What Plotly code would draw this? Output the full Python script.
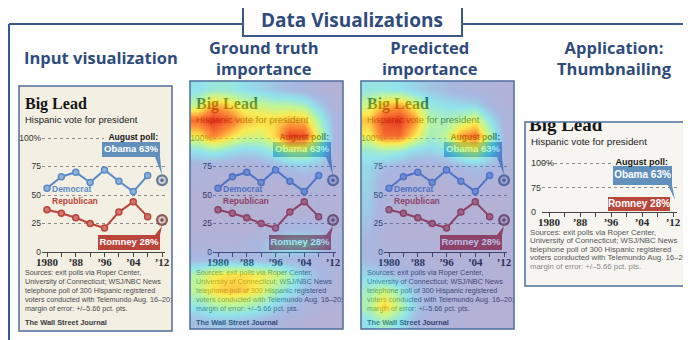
import plotly.graph_objects as go

# ---- values (WSJ "Big Lead" chart) ----
years = [1980, 1984, 1988, 1992, 1996, 2000, 2004, 2008]
democrat = [56, 66, 70, 61, 72, 62, 53, 67]
republican = [37, 34, 30, 25, 21, 35, 44, 31]
poll_year = 2012
obama_poll = 63
romney_poll = 28

year_ticks = [1980, 1984, 1988, 1992, 1996, 2000, 2004, 2008, 2012]
year_labels = ['1980', '', '\u201988', '', '\u201996', '', '\u201904', '', '\u201912']
pct_ticks = [0, 25, 50, 75, 100]
pct_labels = ['0', '25', '50', '75', '100%']
# the thumbnail is seam-carved: only 0, 75 and 100 survive
thumb_ticks = [0, 1, 2]
thumb_labels = ['0', '75', '100%']

sources = [
    'Sources: exit polls via Roper Center,',
    'University of Connecticut; WSJ/NBC News',
    'telephone poll of 300 Hispanic registered',
    'voters conducted with Telemundo Aug. 16\u201320;',
    'margin of error: +/\u20135.66 pct. pts.',
]

panel_titles = ['Input visualization', 'Ground truth<br>importance',
                'Predicted<br>importance', 'Application:<br>Thumbnailing']

# importance maps, 16 rows (top -> bottom) x 10 columns (left -> right)
gt_importance = [
    [0.35, 0.40, 0.40, 0.35, 0.30, 0.25, 0.20, 0.15, 0.10, 0.05],
    [0.52, 0.78, 0.70, 0.58, 0.55, 0.50, 0.50, 0.45, 0.26, 0.10],
    [0.90, 1.00, 0.92, 0.76, 0.70, 0.70, 0.76, 0.74, 0.44, 0.15],
    [0.66, 0.85, 0.72, 0.60, 0.58, 0.70, 0.98, 0.95, 0.55, 0.15],
    [0.35, 0.42, 0.36, 0.30, 0.32, 0.42, 0.55, 0.55, 0.40, 0.12],
    [0.15, 0.12, 0.10, 0.10, 0.12, 0.18, 0.25, 0.28, 0.22, 0.10],
    [0.10, 0.08, 0.06, 0.06, 0.06, 0.08, 0.10, 0.12, 0.12, 0.08],
    [0.08, 0.06, 0.05, 0.05, 0.05, 0.05, 0.06, 0.08, 0.10, 0.08],
    [0.08, 0.06, 0.05, 0.05, 0.05, 0.05, 0.06, 0.08, 0.10, 0.08],
    [0.08, 0.06, 0.06, 0.06, 0.08, 0.12, 0.18, 0.20, 0.18, 0.10],
    [0.10, 0.10, 0.10, 0.12, 0.18, 0.32, 0.38, 0.38, 0.32, 0.15],
    [0.20, 0.22, 0.22, 0.20, 0.20, 0.20, 0.18, 0.16, 0.12, 0.10],
    [0.50, 0.64, 0.68, 0.68, 0.64, 0.58, 0.46, 0.30, 0.20, 0.12],
    [0.52, 0.68, 0.74, 0.72, 0.64, 0.48, 0.36, 0.25, 0.15, 0.10],
    [0.38, 0.46, 0.50, 0.48, 0.42, 0.32, 0.22, 0.15, 0.10, 0.08],
    [0.22, 0.25, 0.25, 0.22, 0.20, 0.15, 0.10, 0.08, 0.06, 0.05],
]
pred_importance = [
    [0.38, 0.38, 0.36, 0.30, 0.25, 0.20, 0.15, 0.12, 0.10, 0.08],
    [0.55, 0.74, 0.78, 0.62, 0.40, 0.35, 0.32, 0.30, 0.16, 0.10],
    [0.74, 0.96, 1.00, 0.82, 0.50, 0.45, 0.52, 0.62, 0.34, 0.12],
    [0.64, 0.90, 0.90, 0.68, 0.45, 0.52, 0.80, 0.88, 0.48, 0.12],
    [0.40, 0.45, 0.42, 0.32, 0.30, 0.36, 0.52, 0.58, 0.36, 0.12],
    [0.32, 0.22, 0.16, 0.12, 0.12, 0.15, 0.20, 0.25, 0.20, 0.10],
    [0.30, 0.15, 0.10, 0.08, 0.08, 0.08, 0.10, 0.12, 0.10, 0.08],
    [0.28, 0.13, 0.08, 0.06, 0.06, 0.06, 0.08, 0.08, 0.08, 0.06],
    [0.26, 0.12, 0.08, 0.06, 0.06, 0.06, 0.06, 0.06, 0.06, 0.06],
    [0.22, 0.10, 0.08, 0.06, 0.06, 0.06, 0.06, 0.06, 0.06, 0.06],
    [0.16, 0.10, 0.08, 0.08, 0.08, 0.08, 0.08, 0.08, 0.08, 0.06],
    [0.20, 0.15, 0.12, 0.10, 0.08, 0.08, 0.08, 0.08, 0.08, 0.06],
    [0.32, 0.26, 0.20, 0.15, 0.12, 0.10, 0.10, 0.08, 0.08, 0.06],
    [0.44, 0.55, 0.42, 0.25, 0.15, 0.12, 0.10, 0.08, 0.08, 0.06],
    [0.48, 0.72, 0.52, 0.30, 0.15, 0.12, 0.10, 0.08, 0.08, 0.06],
    [0.35, 0.44, 0.35, 0.20, 0.12, 0.10, 0.08, 0.06, 0.06, 0.05],
]

# ---- styling ----
OFF = 8                      # the page body keeps its default 8px margin
W, H = 691 - OFF, 340 - OFF
NAVY = '#2e4b7c'
FRAME = '#3a5888'
BORDER = '#4d6d9c'
CREAM = '#f3efe3'
THUMB_BG = '#f6f5f0'
DEM, DEM_L = '#5b8cc6', '#8db3dc'
REP, REP_L = '#b9453b', '#d3776e'
OBAMA_BOX = '#6290bd'
SANS = 'Liberation Sans, Arial, sans-serif'
SERIF = 'Liberation Serif, DejaVu Serif, serif'
TITLE = 'Open Sans, Lato, sans-serif'

HEAT = [
    [0.0, 'rgba(60,45,170,0.32)'],
    [0.18, 'rgba(50,90,220,0.38)'],
    [0.36, 'rgba(30,215,245,0.46)'],
    [0.52, 'rgba(150,250,90,0.55)'],
    [0.66, 'rgba(255,232,0,0.64)'],
    [0.82, 'rgba(255,115,0,0.76)'],
    [1.0, 'rgba(228,25,5,0.86)'],
]

fig = go.Figure()
layout = {}
shapes = []


def px_x(px):
    return (px - OFF) / W


def px_y(py):
    return 1 - (py - OFF) / H


def dom_x(a, b):
    return [px_x(a), px_x(b)]


def dom_y(top, bottom):
    return [px_y(bottom), px_y(top)]


def ax_key(n, letter):
    return letter + 'axis' + ('' if n == 1 else str(n))


def ref(n, letter):
    return letter + ('' if n == 1 else str(n))


hidden = dict(visible=False, fixedrange=True, showgrid=False, zeroline=False)


def canvas_axes(n, left, top, w, h):
    layout[ax_key(n, 'x')] = dict(hidden, domain=dom_x(left, left + w), range=[0, w], anchor=ref(n, 'y'))
    layout[ax_key(n, 'y')] = dict(hidden, domain=dom_y(top, top + h), range=[h, 0], anchor=ref(n, 'x'))


def chart_axes(n, left, right, top, bottom, xrange, yticks, ylabels, yrange, xsize, ysize):
    layout[ax_key(n, 'x')] = dict(
        domain=dom_x(left, right), range=xrange, anchor=ref(n, 'y'),
        tickvals=year_ticks, ticktext=year_labels, ticks='outside', ticklen=4,
        tickwidth=1, tickcolor='#444', showline=True, linecolor='#444', linewidth=1.3,
        showgrid=False, zeroline=False, fixedrange=True, automargin=False,
        ticklabelstandoff=-4,
        tickfont=dict(family=SERIF, size=xsize, color='#2a2a2a', weight='bold'))
    layout[ax_key(n, 'y')] = dict(
        domain=dom_y(top, bottom), range=yrange, anchor=ref(n, 'x'),
        tickvals=yticks, ticktext=ylabels, ticks='', showgrid=True,
        gridcolor='#8c8c8c', griddash='dot', gridwidth=1, zeroline=False,
        showline=False, fixedrange=True, automargin=False,
        tickfont=dict(family=SANS, size=ysize, color='#333'))


def add_lines(n):
    xa, ya = ref(n, 'x'), ref(n, 'y')
    for vals, c, cl in ((democrat, DEM, DEM_L), (republican, REP, REP_L)):
        fig.add_trace(go.Scatter(
            x=years, y=vals, mode='lines+markers', xaxis=xa, yaxis=ya,
            line=dict(color=c, width=2),
            marker=dict(size=6, color=cl, line=dict(color=c, width=1.5)),
            hoverinfo='skip'))
    for val, outer in ((obama_poll, '#2c4a6e'), (romney_poll, '#5e1c18')):
        fig.add_trace(go.Scatter(
            x=[poll_year] * 3, y=[val] * 3, mode='markers', xaxis=xa, yaxis=ya,
            marker=dict(size=[12, 7.5, 3.5], color=[outer, '#f4f4f4', outer], line=dict(width=0)),
            cliponaxis=False, hoverinfo='skip'))


def add_texts(n, items, clip=False):
    cols = list(zip(*items))
    fig.add_trace(go.Scatter(
        x=list(cols[0]), y=list(cols[1]), text=list(cols[2]), mode='text',
        textposition=list(cols[3]),
        textfont=dict(size=list(cols[4]), color=list(cols[5]), family=list(cols[6])),
        xaxis=ref(n, 'x'), yaxis=ref(n, 'y'), hoverinfo='skip', cliponaxis=clip))


def rect(n, x0, y0, x1, y1, color):
    shapes.append(dict(type='rect', xref=ref(n, 'x'), yref=ref(n, 'y'), x0=x0, y0=y0, x1=x1, y1=y1,
                       fillcolor=color, line=dict(width=0), layer='below'))


def tail(n, pts, color):
    path = 'M ' + ' L '.join(f'{x} {y}' for x, y in pts) + ' Z'
    shapes.append(dict(type='path', xref=ref(n, 'x'), yref=ref(n, 'y'), path=path,
                       fillcolor=color, line=dict(width=0), layer='below'))


def paper_rect(x0, y0, x1, y1, fill=None, line=None, width=1.5, layer='below'):
    shapes.append(dict(type='rect', xref='paper', yref='paper',
                       x0=px_x(x0), x1=px_x(x1), y0=px_y(y1), y1=px_y(y0),
                       fillcolor=fill or 'rgba(0,0,0,0)',
                       line=dict(color=line or 'rgba(0,0,0,0)', width=width if line else 0),
                       layer=layer))


# ---- panel boxes ----
panel_boxes = [(19, 86, 172, 331), (190, 81, 343, 329), (361, 81, 514, 329), (525, 122, 687, 286)]
for i, (x0, y0, x1, y1) in enumerate(panel_boxes):
    paper_rect(x0, y0, x1, y1, fill=CREAM if i < 3 else THUMB_BG)

# ---- three full-size charts (input, ground truth, predicted) ----
origins = [(19, 86), (190, 86), (361, 86)]
for i, (ox, oy) in enumerate(origins):
    nc, nt = 2 * i + 1, 2 * i + 2
    # 0 at oy+166, 100 at oy+52 (1.14 px per point); range padded to 102
    chart_axes(nc, ox + 23, ox + 146, oy + 52 - 2.28, oy + 166, [1978.61, 2012.83],
               pct_ticks, pct_labels, [0, 102], 11, 8.5)
    add_lines(nc)
    canvas_axes(nt, ox, oy, 153, 248)
    items = [
        (6, 19, '<b>Big Lead</b>', 'middle right', 16, '#151515', SERIF),
        (6, 35, 'Hispanic vote for president', 'middle right', 9.5, '#222', SANS),
        (139, 52, '<b>August poll:</b>', 'middle left', 8.5, '#151515', SANS),
        (112, 63.5, f'<b>Obama {obama_poll}%</b>', 'middle center', 9.5, 'white', SANS),
        (33, 104, '<b>Democrat</b>', 'middle right', 8.5, DEM, SANS),
        (33, 116, '<b>Republican</b>', 'middle right', 8.5, REP, SANS),
        (110, 156.5, f'<b>Romney {romney_poll}%</b>', 'middle center', 9.5, 'white', SANS),
    ]
    for k, line in enumerate(sources):
        items.append((6, 187 + 9 * k, line, 'middle right', 7.2, '#4a4a4a', SANS))
    items.append((6, 237.5, '<b>The Wall Street Journal</b>', 'middle right', 7.4, '#3a3a3a', SANS))
    add_texts(nt, items)
    rect(nt, 85, 46, 148, 57, CREAM)
    rect(nt, 83, 56, 141, 71, OBAMA_BOX)
    tail(nt, [(136, 71), (141, 71), (143, 89)], OBAMA_BOX)
    rect(nt, 79, 149, 141, 164, REP)
    tail(nt, [(136, 149), (141, 149), (143, 140)], REP)

# ---- thumbnail (seam-carved) ----
# 0 sits at y=212 px, 100% at y=163 px (24.5 px per kept step)
chart_axes(7, 542, 677, 163 - 7.35, 212 + 7.35, [1978.19, 2013.03],
           thumb_ticks, thumb_labels, [-0.3, 2.3], 11, 9)
layout['yaxis7'].update(anchor='free', position=px_x(530), side='right')
layout['xaxis7'].update(anchor='free', position=px_y(212))
fig.add_trace(go.Scatter(x=[], y=[], xaxis='x7', yaxis='y7', hoverinfo='skip'))
canvas_axes(8, 525, 122, 162, 164)
thumb_items = [
    (4, 4, '<b>Big Lead</b>', 'middle right', 19, '#151515', SERIF),
    (6, 21, 'Hispanic vote for president', 'middle right', 9.8, '#222', SANS),
    (143, 41, '<b>August poll:</b>', 'middle left', 9, '#151515', SANS),
    (117.5, 53.5, f'<b>Obama {obama_poll}%</b>', 'middle center', 10, 'white', SANS),
    (114, 82, f'<b>Romney {romney_poll}%</b>', 'middle center', 10, 'white', SANS),
]
for k, line in enumerate(sources):
    thumb_items.append((5, 111 + 8.5 * k, line, 'middle right', 7.8,
                        '#555' if k < 4 else '#888', SANS))
add_texts(8, thumb_items, clip=True)
rect(8, 88, 35, 160, 47, THUMB_BG)
rect(8, 88, 44, 147, 63, OBAMA_BOX)
tail(8, [(143, 63), (147, 63), (150, 78)], OBAMA_BOX)
rect(8, 83, 75, 145, 89, REP)

# ---- importance overlays ----
for n, (x0, y0, x1, y1), z in ((9, panel_boxes[1], gt_importance), (10, panel_boxes[2], pred_importance)):
    canvas_axes(n, x0, y0, x1 - x0, y1 - y0)
    fig.add_trace(go.Heatmap(
        z=z, x0=(x1 - x0) / 20, dx=(x1 - x0) / 10, y0=(y1 - y0) / 32, dy=(y1 - y0) / 16,
        zmin=0, zmax=1, zsmooth='best', colorscale=HEAT, showscale=False,
        xaxis=ref(n, 'x'), yaxis=ref(n, 'y'), hoverinfo='skip'))

# ---- borders, outer frame and title box ----
for (x0, y0, x1, y1) in panel_boxes:
    paper_rect(x0, y0, x1, y1, line=BORDER, width=1.5, layer='above')
for (xa, ya, xb, yb) in ((9, 24, 9, 345), (9, 24, 243, 24), (462, 24, 700, 24)):
    shapes.append(dict(type='line', xref='paper', yref='paper', x0=px_x(xa), x1=px_x(xb),
                       y0=px_y(ya), y1=px_y(yb), line=dict(color=FRAME, width=2), layer='above'))
paper_rect(243, 3, 462, 36, fill='white', line=FRAME, width=2, layer='above')

annotations = [dict(text='<b>Data Visualizations</b>', x=px_x(352), y=px_y(20), xref='paper', yref='paper',
                    xanchor='center', yanchor='middle', showarrow=False,
                    font=dict(family=TITLE, size=19, color=NAVY))]
for txt, cx, cy in zip(panel_titles, [101, 264, 430, 614], [58, 58, 58, 58]):
    annotations.append(dict(text=f'<b>{txt}</b>', x=px_x(cx), y=px_y(cy), xref='paper', yref='paper',
                            xanchor='center', yanchor='middle', showarrow=False,
                            font=dict(family=TITLE, size=16.5, color=NAVY)))

fig.update_layout(
    width=W, height=H, margin=dict(l=0, r=0, t=0, b=0, autoexpand=False),
    paper_bgcolor='white', plot_bgcolor='rgba(0,0,0,0)',
    showlegend=False, hovermode=False,
    shapes=shapes, annotations=annotations, **layout)

fig.write_html('out.html')
